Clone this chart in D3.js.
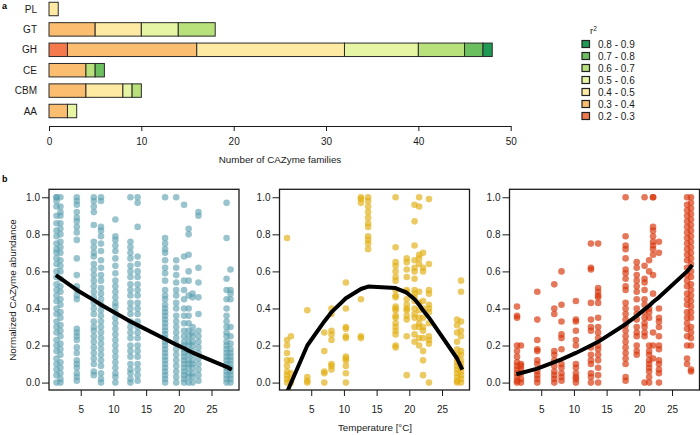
<!DOCTYPE html>
<html><head><meta charset="utf-8">
<script src="https://cdn.jsdelivr.net/npm/d3@7"></script>
<style>body{margin:0;background:#fff}svg{display:block;font-family:"Liberation Sans",Arial,sans-serif}</style>
</head><body><svg id="c" width="700" height="435"></svg>
<script>
// ---------- panel a data ----------
const categories = ["PL","GT","GH","CE","CBM","AA"];
const r2Bins = ["0.2 - 0.3","0.3 - 0.4","0.4 - 0.5","0.5 - 0.6","0.6 - 0.7","0.7 - 0.8","0.8 - 0.9"];
const binColors = ["#f47a4d","#fbbd70","#feeaa2","#e5f5a4","#b8e07b","#6cbf5e","#1f9a55"];
const countsPL  = [0,0,1,0,0,0,0];
const countsGT  = [0,5,5,4,4,0,0];
const countsGH  = [2,14,16,8,5,2,1];
const countsCE  = [0,4,0,0,1,1,0];
const countsCBM = [0,4,4,1,1,0,0];
const countsAA  = [0,2,0,1,0,0,0];
const familyTicks = [0,10,20,30,40,50];

// ---------- panel b data ----------
const temps = [1.3,1.9,4.4,7.0,8.1,10.3,12.6,13.7,17.9,19.6,20.8,21.5,22.1,23.0,27.3,27.9];
const tempTicks = [5,10,15,20,25];
const abundTicks = [0,0.2,0.4,0.6,0.8,1.0];
const blueVals = [
 [1.0,1.0,0.98,0.95,0.9,0.86,0.82,0.79,0.75,0.72,0.7,0.67,0.64,0.6,0.57,0.53,0.5,0.47,0.44,0.4,0.37,0.33,0.3,0.27,0.23,0.2,0.17,0.13,0.1,0.07,0.04,0.0],
 [1.0,0.95,0.92,0.9,0.86,0.83,0.8,0.76,0.73,0.7,0.66,0.63,0.6,0.56,0.52,0.49,0.45,0.42,0.38,0.35,0.31,0.28,0.25,0.21,0.18,0.15,0.11,0.08,0.05,0.02,0.0],
 [1.0,0.98,0.96,0.92,0.89,0.87,0.84,0.81,0.77,0.67,0.58,0.52,0.5,0.47,0.45,0.29,0.27,0.25,0.23,0.19,0.16,0.12,0.1,0.08,0.05,0.03,0.01],
 [1.0,0.98,0.95,0.92,0.85,0.76,0.73,0.7,0.68,0.64,0.61,0.58,0.55,0.52,0.49,0.46,0.43,0.4,0.37,0.33,0.3,0.28,0.25,0.22,0.19,0.16,0.13,0.1,0.06,0.04],
 [1.0,0.98,0.84,0.82,0.79,0.75,0.71,0.66,0.62,0.58,0.55,0.51,0.48,0.45,0.42,0.39,0.36,0.33,0.3,0.27,0.24,0.21,0.18,0.15,0.12,0.09,0.05,0.02,0.0],
 [0.88,0.79,0.77,0.74,0.71,0.67,0.63,0.59,0.55,0.52,0.49,0.46,0.43,0.41,0.38,0.35,0.32,0.29,0.26,0.23,0.2,0.17,0.14,0.11,0.08,0.05,0.03,0.0],
 [1.0,0.76,0.73,0.7,0.67,0.63,0.6,0.57,0.53,0.5,0.47,0.43,0.4,0.37,0.33,0.3,0.27,0.24,0.2,0.17,0.14,0.1,0.07,0.05,0.02,0.0],
 [1.0,0.97,0.84,0.68,0.64,0.6,0.57,0.53,0.5,0.47,0.43,0.4,0.37,0.33,0.3,0.27,0.24,0.2,0.17,0.14,0.1,0.07,0.04,0.01],
 [1.0,0.78,0.75,0.72,0.7,0.66,0.62,0.59,0.55,0.5,0.47,0.45,0.42,0.4,0.38,0.36,0.34,0.32,0.3,0.28,0.26,0.24,0.22,0.2,0.18,0.16,0.14,0.12,0.1,0.08,0.06,0.04,0.02,0.0],
 [1.0,0.66,0.62,0.58,0.54,0.5,0.47,0.43,0.4,0.36,0.33,0.3,0.27,0.24,0.21,0.18,0.15,0.12,0.09,0.06,0.03,0.0],
 [0.96,0.68,0.55,0.5,0.45,0.4,0.36,0.32,0.28,0.25,0.22,0.2,0.18,0.16,0.14,0.12,0.1,0.08,0.06,0.04,0.02,0.0],
 [0.83,0.8,0.69,0.6,0.55,0.47,0.4,0.36,0.32,0.28,0.25,0.22,0.2,0.17,0.15,0.12,0.1,0.08,0.05,0.03,0.0],
 [0.48,0.46,0.3,0.27,0.25,0.22,0.2,0.17,0.15,0.12,0.1,0.08,0.05,0.03,0.0],
 [0.92,0.9,0.62,0.54,0.46,0.37,0.28,0.25,0.22,0.19,0.16,0.13,0.1,0.07,0.04,0.01],
 [0.97,0.78,0.56,0.5,0.45,0.4,0.36,0.33,0.3,0.27,0.25,0.22,0.2,0.18,0.16,0.14,0.12,0.1,0.08,0.06,0.04,0.02,0.0],
 [0.61,0.5,0.48,0.45,0.3,0.25,0.21,0.18,0.16,0.14,0.12,0.1,0.08,0.06,0.04,0.02,0.0]
];
const yellowVals = [
 [0.78,0.23,0.2,0.16,0.12,0.09,0.06,0.04,0.02,0.0],
 [0.25,0.12,0.05,0.02,0.0],
 [0.39,0.03,0.01,0.0],
 [0.27,0.17,0.06,0.05,0.0],
 [0.4,0.37,0.28,0.26,0.23,0.1,0.09,0.07],
 [0.54,0.4,0.3,0.29,0.25,0.24,0.14,0.13,0.12,0.09,0.05,0.0],
 [1.0,0.99,0.97,0.45,0.25,0.24],
 [1.0,0.98,0.95,0.92,0.89,0.86,0.84,0.79,0.77,0.75,0.72],
 [1.0,0.73,0.65,0.63,0.6,0.57,0.55,0.5,0.47,0.46,0.41,0.4,0.39,0.36,0.35,0.32,0.3,0.28,0.26,0.2,0.19],
 [0.67,0.65,0.61,0.57,0.5,0.49,0.45,0.42,0.4,0.39,0.36,0.34,0.25,0.04],
 [0.96,0.87,0.74,0.66,0.62,0.6,0.56,0.5,0.48,0.46,0.44,0.4,0.37,0.35,0.3,0.26,0.22],
 [1.0,0.95,0.69,0.67,0.64,0.49,0.43,0.39,0.35,0.32,0.3,0.24,0.2],
 [0.7,0.62,0.6,0.44,0.4,0.35,0.3,0.28,0.24,0.17,0.12,0.04],
 [0.99,0.64,0.5,0.48,0.42,0.4,0.38,0.32,0.25,0.23,0.21,0.0],
 [0.34,0.31,0.27,0.22,0.18,0.15,0.13,0.11,0.09,0.07,0.05,0.03,0.01,0.0],
 [0.55,0.49,0.33,0.28,0.25,0.17,0.15,0.12,0.1,0.08,0.06,0.04,0.02,0.0]
];
const redVals = [
 [0.41,0.36,0.35,0.2,0.17,0.14,0.11,0.09,0.07,0.05,0.03,0.01,0.0],
 [0.2,0.1,0.09,0.07,0.05,0.02,0.0],
 [0.49,0.34,0.23,0.18,0.17,0.12,0.1,0.06,0.04,0.02,0.0],
 [0.53,0.4,0.37,0.17,0.15,0.12,0.09,0.06,0.04,0.02,0.0],
 [0.6,0.42,0.33,0.26,0.24,0.18,0.1,0.08,0.05,0.03,0.01],
 [0.44,0.34,0.33,0.28,0.23,0.2,0.1,0.08,0.05,0.03,0.02,0.0],
 [0.75,0.62,0.61,0.43,0.34,0.3,0.28,0.19,0.15,0.12,0.1,0.05,0.03,0.0],
 [0.75,0.51,0.49,0.47,0.46,0.43,0.35,0.3,0.27,0.24,0.2,0.18,0.15,0.12,0.08,0.04,0.0],
 [1.0,0.79,0.74,0.72,0.67,0.61,0.59,0.56,0.52,0.5,0.43,0.4,0.37,0.34,0.31,0.28,0.25,0.22,0.19,0.16,0.13,0.1,0.03,0.01],
 [0.65,0.62,0.58,0.55,0.52,0.49,0.45,0.4,0.37,0.34,0.3,0.27,0.25,0.2,0.17,0.15],
 [1.0,0.63,0.56,0.54,0.5,0.45,0.42,0.38,0.35,0.32,0.3,0.27,0.25,0.0],
 [0.66,0.6,0.4,0.38,0.35,0.2,0.17,0.15,0.12,0.1,0.08,0.06,0.03,0.0],
 [1.0,1.0,0.84,0.82,0.79,0.76,0.74,0.72,0.69,0.58,0.48,0.27,0.2,0.13],
 [0.76,0.7,0.4,0.35,0.33,0.3,0.25,0.2,0.18,0.12,0.1,0.07,0.05,0.0],
 [1.0,0.96,0.93,0.9,0.87,0.84,0.81,0.78,0.75,0.72,0.69,0.66,0.62,0.58,0.55,0.52,0.48,0.45,0.42,0.38,0.35,0.32,0.29,0.25,0.2,0.13,0.1],
 [1.0,0.97,0.94,0.91,0.88,0.85,0.82,0.79,0.76,0.73,0.7,0.67,0.64,0.6,0.57,0.53,0.5,0.47,0.44,0.41,0.38,0.35,0.3,0.27,0.24,0.2,0.07,0.06]
];
const curveTemps = [1.2,4.4,7.0,8.1,10.3,12.6,13.7,17.9,19.6,20.8,21.5,22.1,23.0,27.3,28.1];
const blueCurve   = [0.58,0.5,0.445,0.42,0.375,0.33,0.31,0.235,0.205,0.185,0.172,0.162,0.148,0.085,0.07];
const yellowCurve = [-0.06,0.2,0.33,0.38,0.455,0.505,0.518,0.51,0.485,0.45,0.42,0.39,0.35,0.13,0.07];
const redCurve    = [0.045,0.075,0.11,0.125,0.16,0.2,0.22,0.315,0.36,0.395,0.415,0.435,0.46,0.6,0.635];

const svg = d3.select("#c");
const ink = "#1a1a1a";
const tickFont = 10;

// ---------- panel a ----------
svg.append("text").attr("x",2).attr("y",9).attr("font-size",9).attr("font-weight","bold").text("a");
const countsByCat = [countsPL,countsGT,countsGH,countsCE,countsCBM,countsAA];
const rows = categories.map((c,i)=>{const o={cat:c}; r2Bins.forEach((b,j)=>o[b]=countsByCat[i][j]); return o;});
const stack = d3.stack().keys(r2Bins)(rows);
const xa = d3.scaleLinear().domain([0,50]).range([49,510.7]);
const ya = d3.scaleBand().domain(categories).range([-1.2,121.2]).paddingInner(0.34).paddingOuter(0.17);
const ga = svg.append("g");
stack.forEach((layer,j)=>{
  ga.selectAll(null).data(layer.filter(d=>d[1]>d[0])).enter().append("rect")
    .attr("x",d=>xa(d[0])).attr("width",d=>xa(d[1])-xa(d[0]))
    .attr("y",d=>ya(d.data.cat)).attr("height",ya.bandwidth())
    .attr("fill",binColors[j]).attr("stroke","#2a2a2a").attr("stroke-width",1);
});
ga.selectAll(null).data(categories).enter().append("text")
  .attr("x",37).attr("y",d=>ya(d)+ya.bandwidth()/2).attr("dy","0.35em")
  .attr("text-anchor","end").attr("font-size",tickFont).attr("fill",ink).text(d=>d);
const axA = svg.append("g").attr("transform","translate(0,126)")
  .call(d3.axisBottom(xa).tickValues(familyTicks).tickSize(5).tickSizeOuter(0).tickPadding(7));
axA.select(".domain").attr("stroke",ink);
axA.selectAll(".tick line").attr("stroke",ink);
axA.selectAll("text").attr("font-size",tickFont).attr("fill",ink).attr("font-family","Liberation Sans, Arial");
svg.append("text").attr("x",280).attr("y",163).attr("text-anchor","middle").attr("font-size",9.8).attr("fill",ink).text("Number of CAZyme families");

// legend
const lg = svg.append("g");
const rt = lg.append("text").attr("x",590).attr("y",34).attr("font-size",9.5).attr("fill",ink);
rt.append("tspan").text("r");
rt.append("tspan").attr("dy",-3).attr("font-size",6.5).text("2");
const legOrder = r2Bins.map((b,j)=>j).reverse();
legOrder.forEach((j,k)=>{
  const cy = 44 + k*12;
  lg.append("rect").attr("x",582).attr("y",cy-3.5).attr("width",7.5).attr("height",7)
    .attr("fill",binColors[j]).attr("stroke","#222").attr("stroke-width",1.2);
  lg.append("text").attr("x",598).attr("y",cy).attr("dy","0.35em").attr("font-size",tickFont).attr("fill",ink).text(r2Bins[j]);
});

// ---------- panel b ----------
svg.append("text").attr("x",2).attr("y",182).attr("font-size",9).attr("font-weight","bold").text("b");
const panels = [
  {left:49, vals:blueVals, curve:blueCurve, color:"#5a9fb0", op:0.62},
  {left:279.5, vals:yellowVals, curve:yellowCurve, color:"#e2ad10", op:0.65},
  {left:509.5, vals:redVals, curve:redCurve, color:"#d8360c", op:0.68}
];
const pTop=189.3, pBottom=390, pw=190;
const yb = d3.scaleLinear().domain([-0.04,1.043]).range([pBottom,pTop]);
panels.forEach((p,pi)=>{
  const xb = d3.scaleLinear().domain([0.15,29.2]).range([p.left,p.left+pw]);
  const g = svg.append("g");
  const clipId = "clip"+pi;
  svg.append("clipPath").attr("id",clipId).append("rect").attr("x",p.left).attr("y",pTop).attr("width",pw).attr("height",pBottom-pTop);
  const pts = [];
  p.vals.forEach((col,i)=>col.forEach(v=>pts.push([temps[i],v])));
  g.append("g").attr("clip-path",`url(#${clipId})`).selectAll("circle").data(pts).enter().append("circle")
    .attr("cx",d=>xb(d[0])).attr("cy",d=>yb(d[1])).attr("r",3.3)
    .attr("fill",p.color).attr("fill-opacity",p.op);
  const line = d3.line().x((d,i)=>xb(curveTemps[i])).y(d=>yb(d));
  g.append("path").attr("clip-path",`url(#${clipId})`).attr("d",line(p.curve))
    .attr("fill","none").attr("stroke","#000").attr("stroke-width",4).attr("stroke-linejoin","round");
  g.append("rect").attr("x",p.left).attr("y",pTop).attr("width",pw).attr("height",pBottom-pTop)
    .attr("fill","none").attr("stroke",ink).attr("stroke-width",1.3);
  const ax = g.append("g").attr("transform",`translate(0,${pBottom})`)
    .call(d3.axisBottom(xb).tickValues(tempTicks).tickSize(6).tickPadding(10));
  ax.select(".domain").remove();
  ax.selectAll(".tick line").attr("stroke",ink);
  ax.selectAll("text").attr("font-size",tickFont).attr("fill",ink).attr("font-family","Liberation Sans, Arial");
  const ay = g.append("g").attr("transform",`translate(${p.left},0)`)
    .call(d3.axisLeft(yb).tickValues(abundTicks).tickFormat(d3.format(".1f")).tickSize(7).tickPadding(2));
  ay.select(".domain").remove();
  ay.selectAll(".tick line").attr("stroke",ink);
  ay.selectAll("text").attr("font-size",tickFont).attr("fill",ink).attr("font-family","Liberation Sans, Arial");
});
svg.append("text").attr("transform","translate(16,290) rotate(-90)").attr("text-anchor","middle")
  .attr("font-size",9.8).attr("fill",ink).text("Normalized CAZyme abundance");
svg.append("text").attr("x",375).attr("y",431).attr("text-anchor","middle").attr("font-size",9.8).attr("fill",ink).text("Temperature [°C]");
</script></body></html>
